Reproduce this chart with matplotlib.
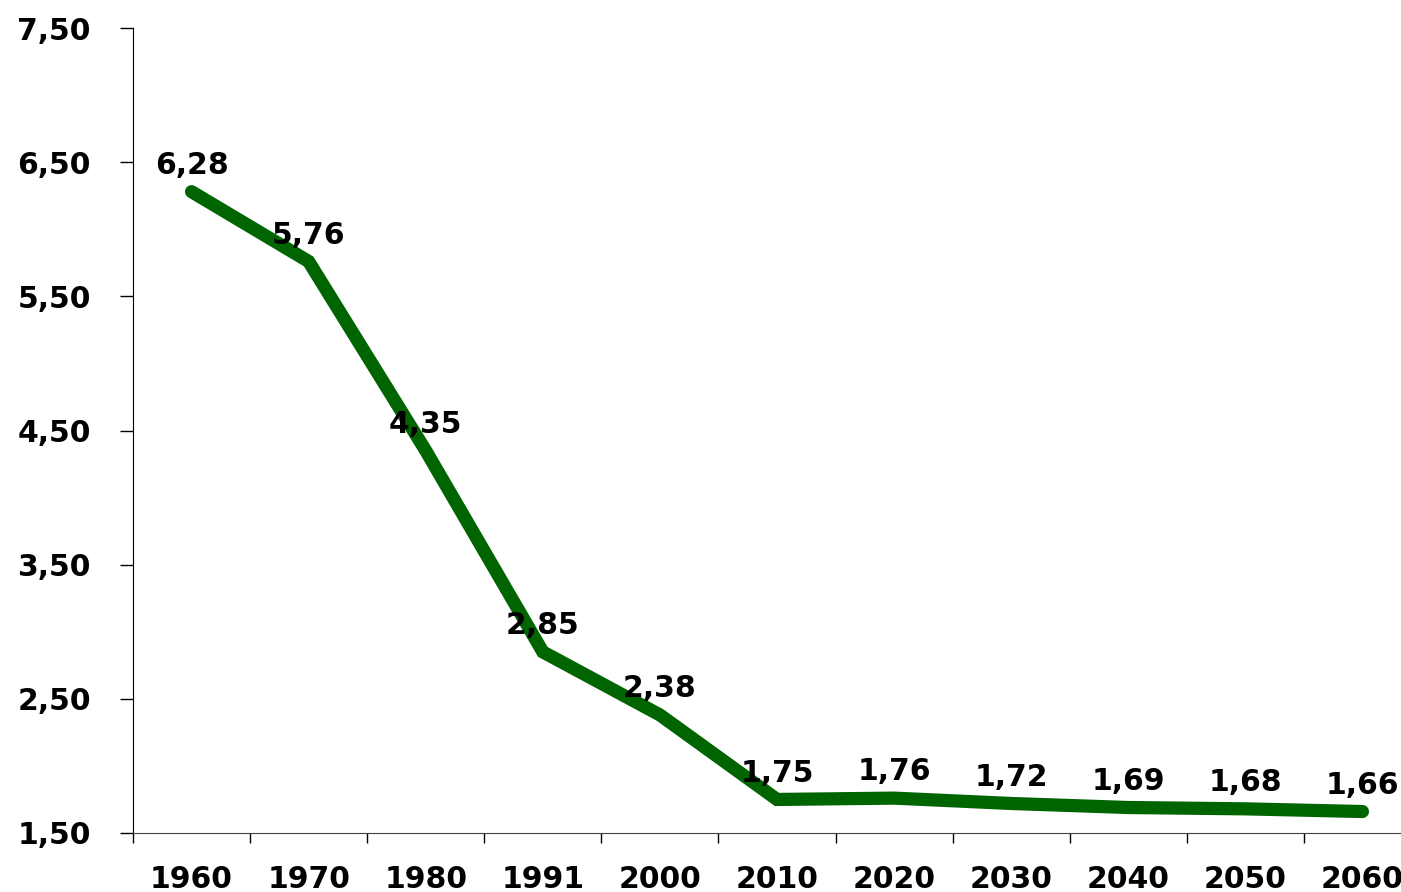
import numpy as np
import matplotlib
matplotlib.use("Agg")
import matplotlib.pyplot as plt

years = ['1960', '1970', '1980', '1991', '2000', '2010', '2020', '2030', '2040', '2050', '2060']
values = [6.28, 5.76, 4.35, 2.85, 2.38, 1.75, 1.76, 1.72, 1.69, 1.68, 1.66]
y_ticks = [1.5, 2.5, 3.5, 4.5, 5.5, 6.5, 7.5]

LINE_COLOR = '#006400'

plt.rcParams['font.family'] = ['DejaVu Sans']
plt.rcParams['font.weight'] = 'bold'

fig = plt.figure(figsize=(14.01, 8.92), dpi=100)
# axes runs a bit past the right edge, as in the reference
ax = fig.add_axes([133 / 1401, 59 / 892, (1421 - 133) / 1401, (833 - 28) / 892])

x = np.arange(len(years))
ax.plot(x, values, color=LINE_COLOR, lw=9.5, solid_capstyle='round', solid_joinstyle='miter')

for xi, v in zip(x, values):
    ax.annotate(f"{v:.2f}".replace('.', ','), (xi, v), xytext=(0, 19), textcoords='offset points',
                ha='center', va='center', fontsize=21.5, fontweight='bold', color='black')

ax.set_xlim(-0.5, len(years) - 0.5)
ax.set_ylim(1.5, 7.5)

ax.set_yticks(y_ticks)
ax.set_yticklabels([f"{t:.2f}".replace('.', ',') for t in y_ticks], fontsize=21.5, fontweight='bold')
ax.tick_params(axis='y', length=9.5, width=1, pad=21, colors='black')

ax.set_xticks(x)
ax.set_xticklabels(years, fontsize=21.5, fontweight='bold')
ax.set_xticks(np.arange(len(years) + 1) - 0.5, minor=True)
ax.tick_params(axis='x', which='major', length=0, pad=23)
ax.tick_params(axis='x', which='minor', length=7.5, width=1, color='black')

for s in ['top', 'right']:
    ax.spines[s].set_visible(False)
ax.spines['left'].set_color('black')
ax.spines['bottom'].set_color('#444444')

fig.savefig('out.png', dpi=100)
